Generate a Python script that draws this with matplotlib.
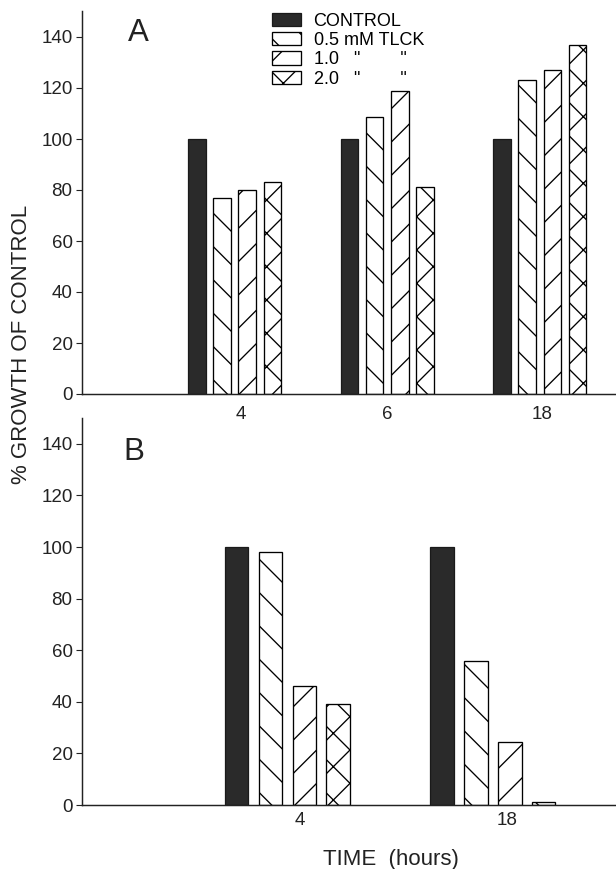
import numpy as np
import matplotlib
matplotlib.use("Agg")
import matplotlib.pyplot as plt

# Dados (% de crescimento em relação ao controle)
horas_A = ['4', '6', '18']
controle_A = [100, 100, 100]
tlck05_A = [77, 108.5, 123]
tlck10_A = [80, 119, 127]
tlck20_A = [83, 81, 137]

horas_B = ['4', '18']
controle_B = [100, 100]
tlck05_B = [98, 56]
tlck10_B = [46, 24.5]
tlck20_B = [39, 1]

rotulos = ['CONTROL', '0.5 mM TLCK', '1.0   "        "', '2.0   "        "']
hachuras = [None, '\\', '/', 'x']

# Figura 616x869 px
DPI = 100
W, H = 616, 869
plt.rcParams['font.family'] = ['Liberation Sans', 'DejaVu Sans']
plt.rcParams['hatch.linewidth'] = 0.95
plt.rcParams['hatch.color'] = 'black'

fig = plt.figure(figsize=(W / DPI, H / DPI), dpi=DPI)

def px(x, y):
    # pixels da imagem (origem no topo) -> fração da figura
    return x / W, 1 - y / H

ax_A = fig.add_axes([82 / W, 1 - 394 / H, (W - 82) / W, 382.5 / H])
ax_B = fig.add_axes([82 / W, 1 - 805 / H, (W - 82) / W, 387 / H])
ax_B.patch.set_alpha(0)

largura = 0.115
passo = 0.165

def painel(ax, horas, series, xmax, desloc_ticks, pad_x):
    centros = np.arange(1, len(horas) + 1)
    barras = []
    for i, valores in enumerate(series):
        pos = centros + (i - 1.5) * passo
        if i == 0:
            b = ax.bar(pos, valores, largura, color='#2a2a2a',
                       edgecolor='#1a1a1a', linewidth=0.9, label=rotulos[i])
        else:
            b = ax.bar(pos, valores, largura, color='white', edgecolor='black',
                       linewidth=0.95, hatch=hachuras[i], label=rotulos[i])
        barras.append(b)
    ax.set_xlim(0, xmax)
    ax.set_ylim(0, 150)
    ax.set_yticks(np.arange(0, 141, 20))
    ax.set_xticks(centros + np.array(desloc_ticks))
    ax.set_xticklabels(horas)
    for s in ['top', 'right']:
        ax.spines[s].set_visible(False)
    for s in ['left', 'bottom']:
        ax.spines[s].set_linewidth(1.05)
        ax.spines[s].set_color('#222222')
    ax.tick_params(axis='y', direction='out', length=4.2, width=0.8,
                   pad=2.6, labelsize=13.5, colors='#222222')
    ax.tick_params(axis='x', length=0, pad=pad_x, labelsize=13.5,
                   colors='#222222')
    return barras

barras_A = painel(ax_A, horas_A, [controle_A, tlck05_A, tlck10_A, tlck20_A],
                  3.5, [0.04, 0.0, 0.015], 8.5)
painel(ax_B, horas_B, [controle_B, tlck05_B, tlck10_B, tlck20_B],
       2.6, [0.06, 0.07], 4.7)

# Legenda do painel A
fig.legend(handles=barras_A, labels=rotulos, loc='upper left',
           bbox_to_anchor=px(272, 13), frameon=False, fontsize=13,
           borderpad=0, borderaxespad=0, handlelength=1.6, handleheight=0.75,
           handletextpad=0.7, labelspacing=0.12)

# Letras dos painéis
fig.text(*px(138, 41), 'A', fontsize=22.5, ha='center', va='baseline',
         color='#222222')
fig.text(*px(134, 460), 'B', fontsize=22.5, ha='center', va='baseline',
         color='#222222')

# Rótulos dos eixos
fig.text(*px(22, 344), '% GROWTH OF CONTROL', rotation=90, fontsize=16,
         ha='center', va='center', color='#222222')
fig.text(*px(391, 860), 'TIME  (hours)', fontsize=16, ha='center',
         va='center', color='#222222')

fig.savefig('out.png', dpi=DPI)
